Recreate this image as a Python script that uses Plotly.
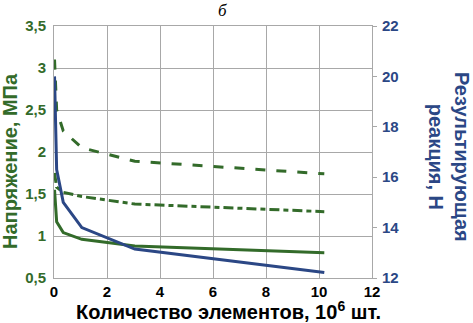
import plotly.graph_objects as go

x_elems = [0.02, 0.1, 0.35, 1.05, 3.05, 10.2]
stress_solid = [1.55, 1.17, 1.04, 0.96, 0.88, 0.80]
stress_dashdot = [1.75, 1.58, 1.52, 1.47, 1.38, 1.29]
stress_dash = [3.1, 2.5, 2.25, 2.05, 1.89, 1.74]
reaction = [20.0, 16.3, 15.0, 14.0, 13.15, 12.22]

x_ticks = [0, 2, 4, 6, 8, 10, 12]
left_ticks = [0.5, 1, 1.5, 2, 2.5, 3, 3.5]
left_ticktext = ["0,5", "1", "1,5", "2", "2,5", "3", "3,5"]
right_ticks = [12, 14, 16, 18, 20, 22]

GREEN = "#336b2a"
BLUE = "#2b4785"
GRID = "#a8a8a8"
FONT = "Liberation Sans, Arial, sans-serif"

W, H = 473, 323
L, R, T, B = 54, 372, 26, 278


def px(xp):
    return (xp - L) / (R - L)


def py(yp):
    return (B - yp) / (B - T)


fig = go.Figure()
fig.add_trace(go.Scatter(x=x_elems, y=stress_solid, mode="lines",
                         line=dict(color=GREEN, width=3), yaxis="y"))
fig.add_trace(go.Scatter(x=x_elems, y=stress_dashdot, mode="lines",
                         line=dict(color=GREEN, width=3, dash="10px,4px,5px,4px"), yaxis="y"))
fig.add_trace(go.Scatter(x=x_elems, y=stress_dash, mode="lines",
                         line=dict(color=GREEN, width=3, dash="10px,11px"), yaxis="y"))
fig.add_trace(go.Scatter(x=x_elems, y=reaction, mode="lines",
                         line=dict(color=BLUE, width=3), yaxis="y2"))

fig.update_layout(
    width=W, height=H,
    margin=dict(l=L, r=W - R, t=T, b=H - B, autoexpand=False),
    paper_bgcolor="white", plot_bgcolor="white",
    showlegend=False,
    font=dict(family=FONT),
    xaxis=dict(range=[0, 12], tickvals=x_ticks, showgrid=True, gridcolor=GRID, gridwidth=1,
               zeroline=False, showline=True, linecolor=GRID, mirror=True, automargin=False,
               ticks="", tickfont=dict(size=15, color="black", family=FONT, weight="bold")),
    yaxis=dict(range=[0.5, 3.5], tickvals=left_ticks, ticktext=left_ticktext,
               showgrid=True, gridcolor=GRID, gridwidth=1, zeroline=False, automargin=False,
               showline=True, linecolor=GRID, ticks="", ticklabelstandoff=4,
               tickfont=dict(size=15, color=GREEN, family=FONT, weight="bold")),
    yaxis2=dict(range=[12, 22], tickvals=right_ticks, overlaying="y", side="right",
                showgrid=False, zeroline=False, showline=True, linecolor=GRID, automargin=False,
                ticks="outside", ticklen=4, tickcolor=GRID, ticklabelstandoff=2,
                tickfont=dict(size=15, color=BLUE, family=FONT, weight="bold")),
    annotations=[
        dict(text="б", xref="paper", yref="paper", x=px(222), y=py(10),
             showarrow=False, xanchor="center", yanchor="middle",
             font=dict(size=17, color="black", family="Liberation Serif, Times New Roman, serif",
                       style="italic")),
        dict(text="Напряжение, МПа", xref="paper", yref="paper",
             x=px(10), y=py(161), textangle=-90, showarrow=False,
             xanchor="center", yanchor="middle",
             font=dict(size=20, color=GREEN, family=FONT, weight="bold")),
        dict(text="Количество элементов, 10<sup>6</sup> шт.", xref="paper", yref="paper",
             x=px(228), y=py(310), showarrow=False, xanchor="center", yanchor="middle",
             font=dict(size=20, color="black", family=FONT, weight="bold")),
        dict(text="Результирующая<br>реакция, Н", xref="paper", yref="paper",
             x=px(449), y=py(157), textangle=90, showarrow=False,
             xanchor="center", yanchor="middle",
             font=dict(size=20, color=BLUE, family=FONT, weight="bold")),
    ],
)

fig.write_html("out.html", config={"displayModeBar": False},
               post_script="document.body.style.margin='0';document.body.style.overflow='hidden';")
